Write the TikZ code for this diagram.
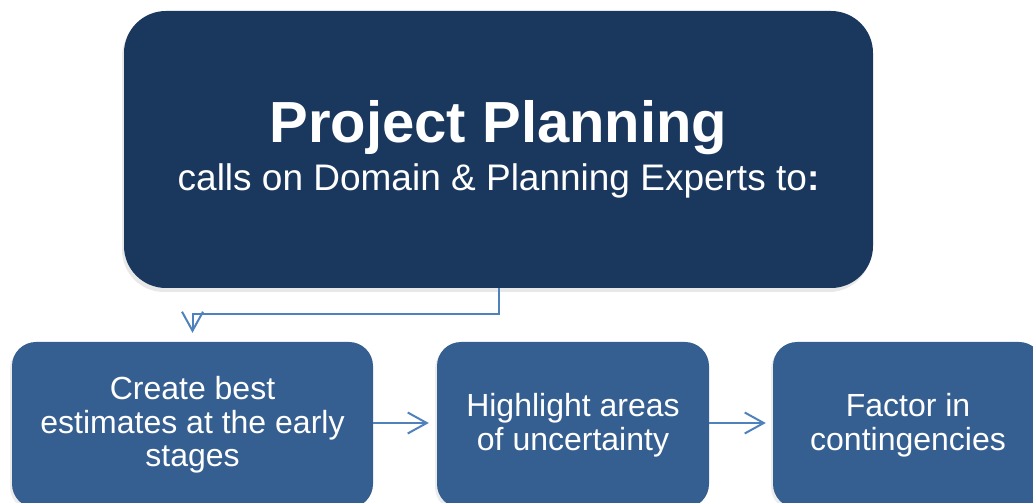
\documentclass[tikz,border=0pt]{standalone}
\usepackage{fontspec}
\setmainfont{Liberation Sans}
\usepackage[]{xcolor}
\usetikzlibrary{arrows.meta,shadows}
\definecolor{navy}{HTML}{1A375E}
\definecolor{stepblue}{HTML}{365F91}
\definecolor{linkblue}{HTML}{4F81BD}

\begin{document}
\begin{tikzpicture}[x=1pt,y=1pt,
    bigbox/.style={fill=navy, rounded corners=42pt, minimum width=749pt,
        minimum height=277pt, text=white, align=center,
        drop shadow={shadow xshift=-2pt, shadow yshift=-4pt, opacity=.18}},
    stepbox/.style={fill=stepblue, rounded corners=24pt, minimum height=166pt,
        text=white, align=center, font=\fontsize{32}{33.5}\selectfont,
        drop shadow={shadow xshift=-2pt, shadow yshift=-3pt, opacity=.15}},
    link/.style={draw=linkblue, line width=2pt,
        -{Straight Barb[length=19pt,width=21pt,line width=2pt]}}]
    \useasboundingbox (0,0) rectangle (1033,503);
    \node[bigbox] (plan) at (498.5,353.5)
        {{\fontsize{58}{58}\selectfont\bfseries Project Planning}\\[8pt]
         {\fontsize{37}{40}\selectfont calls on Domain \& Planning Experts to\textbf{:}}};
    \node[stepbox, minimum width=361pt] (estimate) at (192.5,78)
        {Create best\\estimates at the early\\stages};
    \node[stepbox, minimum width=272pt] (uncertain) at (573,78)
        {Highlight areas\\of uncertainty};
    \node[stepbox, minimum width=270pt] (factor) at (908,78)
        {Factor in\\contingencies};
    % connectors
    \draw[link] (plan.south) -- ++(0,-26) -| ([yshift=9pt]estimate.north);
    \draw[link] ([yshift=2pt]estimate.east) -- ([xshift=-8pt,yshift=2pt]uncertain.west);
    \draw[link] ([yshift=2pt]uncertain.east) -- ([xshift=-7pt,yshift=2pt]factor.west);
\end{tikzpicture}
\end{document}
